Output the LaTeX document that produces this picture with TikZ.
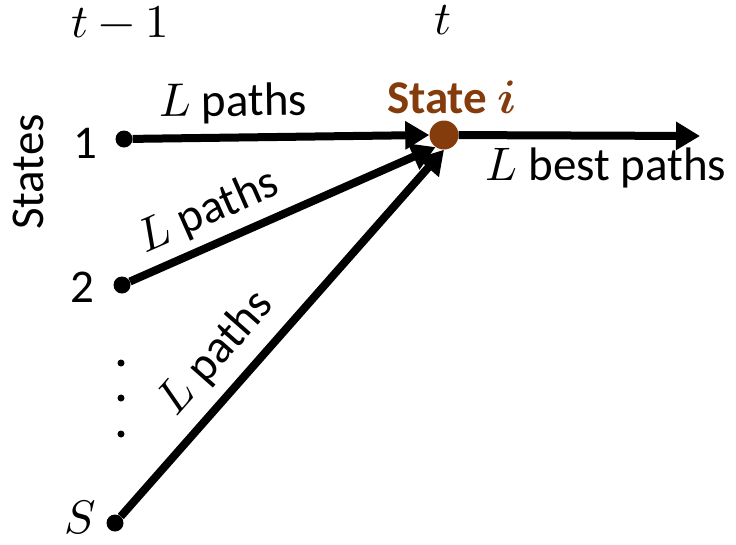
\documentclass[tikz,border=0pt]{standalone}
\usepackage{fontspec}
\usepackage{unicode-math}
\setmainfont{Carlito}
\setmathfont{Latin Modern Math}
\usetikzlibrary{arrows.meta}
\definecolor{stbrown}{HTML}{843C0C}
\begin{document}
\begin{tikzpicture}[x=1pt,y=-1pt,
  every node/.style={font=\fontsize{47}{52}\selectfont, inner sep=0pt},
  dotnode/.style={circle, fill=black, minimum size=17pt, inner sep=0pt},
  smalldot/.style={circle, fill=black, minimum size=7pt, inner sep=0pt},
  statenode/.style={circle, fill=stbrown, minimum size=29pt, inner sep=0pt},
  patharrow/.style={line width=8pt, -{Triangle[length=24pt,width=27pt]}},
  pathlabel/.style={sloped, above=#1}]
\useasboundingbox (0,0) rectangle (736,544);

% time labels
\node (tm1) at (120,22) {$t-1$};
\node (tt) at (443,20) {$t$};
\node[rotate=90] (states) at (28,172) {States};

% state dots
\node[dotnode] (n1) at (124,139) {};
\node[dotnode] (n2) at (122,285) {};
\node[dotnode] (nS) at (115,523) {};
\node[smalldot] (d1) at (121,363) {};
\node[smalldot] (d2) at (121,398) {};
\node[smalldot] (d3) at (121,434) {};

\node (l1) at (85,143) {1};
\node (l2) at (82,287) {2};
\node (lS) at (80,517) {$S$};

% state i
\node[statenode] (si) at (444,135) {};
\node[text=stbrown, font=\fontsize{47}{52}\selectfont\bfseries] (sil) at (452,97) {State $\symbfit{i}$};
\coordinate (out) at (700,136);

% arrows
\draw[patharrow] (n1) -- (si.west) node[pos=0.34, pathlabel=10pt] (p1) {$L$ paths};
\draw[patharrow] (n2) -- (si.235) node[pos=0.30, pathlabel=8pt] (p2) {$L$ paths};
\draw[patharrow] (nS) -- (si.south) node[pos=0.38, pathlabel=12pt] (p3) {$L$ paths};
\draw[patharrow] (si) -- (out);
\node (best) at (606,168) {$L$ best paths};
\end{tikzpicture}
\end{document}
